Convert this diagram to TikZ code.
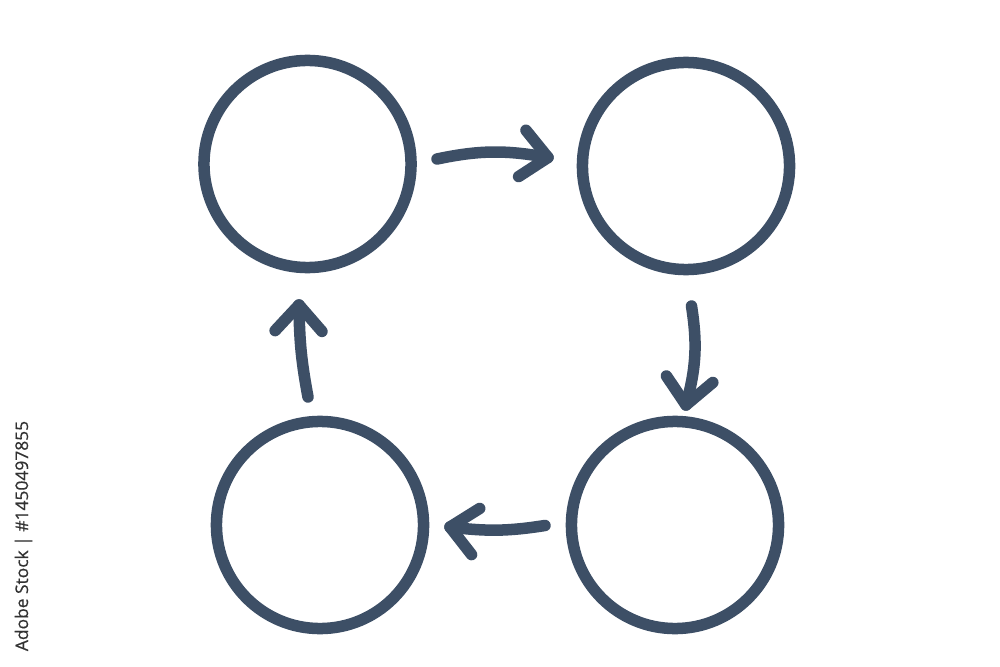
\documentclass[tikz,border=0pt]{standalone}
\usepackage{fontspec}
\newfontfamily\wmfont[FakeBold=0.6]{Open Sans}
\usetikzlibrary{calc}
\definecolor{ink}{RGB}{61,79,102}
\definecolor{wmgray}{RGB}{50,50,50}
\begin{document}
\begin{tikzpicture}[x=0.01cm,y=-0.01cm,
  circ/.style={circle,draw=ink,line width=0.115cm,minimum size=2.07cm,inner sep=0pt},
  shaft/.style={draw=ink,line width=0.115cm,line cap=round},
  head/.style={draw=ink,line width=0.115cm,line cap=round,line join=round}]
\fill[white] (0,0) rectangle (1000,667);
\useasboundingbox (0,0) rectangle (1000,667);
% circles
\node[circ] (tl) at (307.5,164) {};
\node[circ] (tr) at (686,166) {};
\node[circ] (bl) at (320,525) {};
\node[circ] (br) at (675,525) {};
% connector end points
\coordinate (s1) at (437,159);   \coordinate (t1) at (548,157.5);
\coordinate (s2) at (691.5,306); \coordinate (t2) at (686,405);
\coordinate (s3) at (545,525.5); \coordinate (t3) at (450,527);
\coordinate (s4) at (308,397);   \coordinate (t4) at (299,305);
% top: tl -> tr
\draw[shaft] (s1) to[bend left=11] (t1);
\draw[head] ($(t1)+(129:0.35cm)$) -- (t1) -- ($(t1)+(213:0.35cm)$);
% right: tr -> br
\draw[shaft] (s2) to[bend left=12] (t2);
\draw[head] ($(t2)+(124:0.35cm)$) -- (t2) -- ($(t2)+(40:0.35cm)$);
% bottom: br -> bl
\draw[shaft] (s3) to[bend left=8] (t3);
\draw[head] ($(t3)+(32:0.35cm)$) -- (t3) -- ($(t3)+(-52:0.35cm)$);
% left: bl -> tl
\draw[shaft] (s4) to[bend left=5] (t4);
\draw[head] ($(t4)+(227:0.35cm)$) -- (t4) -- ($(t4)+(311:0.35cm)$);
% vertical stock id
\node[rotate=90,text=wmgray,inner sep=0pt,font=\wmfont\fontsize{4.95}{6}\selectfont] (wm) at (23.5,536) {Adobe Stock | \#1450497855};
\end{tikzpicture}
\end{document}
